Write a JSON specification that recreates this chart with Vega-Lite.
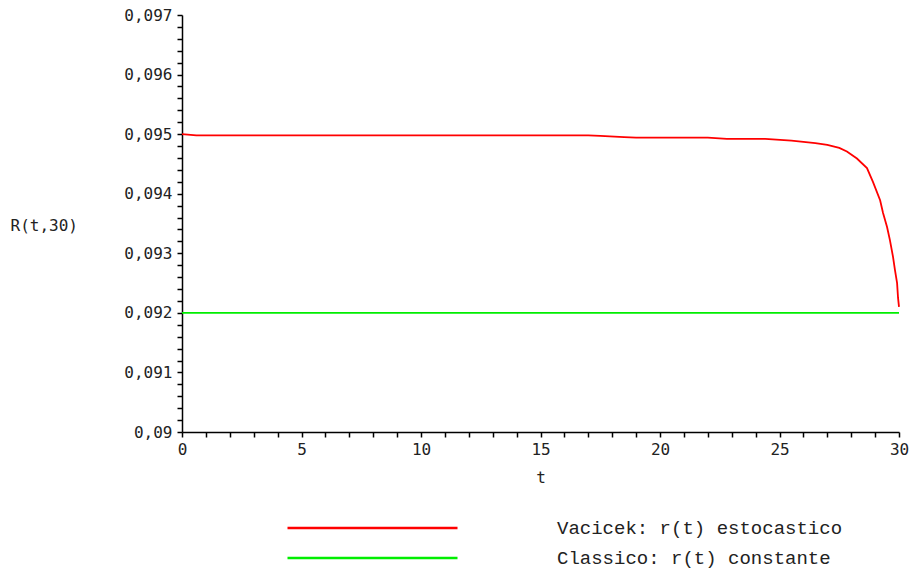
{
  "$schema": "https://vega.github.io/schema/vega-lite/v6.json",
  "autosize": {"type": "none"},
  "padding": {"left": 182, "top": 15, "right": 12, "bottom": 142},
  "width": 717,
  "height": 417,
  "background": "white",
  "config": {
    "view": {"stroke": null},
    "axis": {
      "grid": false,
      "labelFlush": false,
      "domainColor": "#000000",
      "domainWidth": 1.5,
      "tickColor": "#000000",
      "tickWidth": 1.5,
      "tickSize": 5,
      "labelFont": "DejaVu Sans Mono",
      "labelFontSize": 16,
      "labelColor": "#222222",
      "titleFont": "DejaVu Sans Mono",
      "titleFontSize": 16,
      "titleFontWeight": "normal",
      "titleColor": "#222222"
    }
  },
  "data": {
    "values": [
      {"t": 0, "r": 0.0950, "serie": "Vacicek: r(t) estocastico"},
      {"t": 0.6, "r": 0.09498, "serie": "Vacicek: r(t) estocastico"},
      {"t": 17.0, "r": 0.09498, "serie": "Vacicek: r(t) estocastico"},
      {"t": 17.5, "r": 0.09497, "serie": "Vacicek: r(t) estocastico"},
      {"t": 18.5, "r": 0.09495, "serie": "Vacicek: r(t) estocastico"},
      {"t": 19.0, "r": 0.09494, "serie": "Vacicek: r(t) estocastico"},
      {"t": 22.0, "r": 0.09494, "serie": "Vacicek: r(t) estocastico"},
      {"t": 22.8, "r": 0.09492, "serie": "Vacicek: r(t) estocastico"},
      {"t": 24.4, "r": 0.09492, "serie": "Vacicek: r(t) estocastico"},
      {"t": 25.5, "r": 0.09489, "serie": "Vacicek: r(t) estocastico"},
      {"t": 26.5, "r": 0.09485, "serie": "Vacicek: r(t) estocastico"},
      {"t": 27.0, "r": 0.09482, "serie": "Vacicek: r(t) estocastico"},
      {"t": 27.5, "r": 0.09477, "serie": "Vacicek: r(t) estocastico"},
      {"t": 27.82, "r": 0.09471, "serie": "Vacicek: r(t) estocastico"},
      {"t": 28.24, "r": 0.09459, "serie": "Vacicek: r(t) estocastico"},
      {"t": 28.66, "r": 0.09443, "serie": "Vacicek: r(t) estocastico"},
      {"t": 28.91, "r": 0.09420, "serie": "Vacicek: r(t) estocastico"},
      {"t": 29.21, "r": 0.09389, "serie": "Vacicek: r(t) estocastico"},
      {"t": 29.33, "r": 0.09368, "serie": "Vacicek: r(t) estocastico"},
      {"t": 29.5, "r": 0.09344, "serie": "Vacicek: r(t) estocastico"},
      {"t": 29.62, "r": 0.09322, "serie": "Vacicek: r(t) estocastico"},
      {"t": 29.75, "r": 0.09294, "serie": "Vacicek: r(t) estocastico"},
      {"t": 29.83, "r": 0.09272, "serie": "Vacicek: r(t) estocastico"},
      {"t": 29.92, "r": 0.09250, "serie": "Vacicek: r(t) estocastico"},
      {"t": 29.96, "r": 0.09225, "serie": "Vacicek: r(t) estocastico"},
      {"t": 30, "r": 0.09210, "serie": "Vacicek: r(t) estocastico"},
      {"t": 0, "r": 0.092, "serie": "Classico: r(t) constante"},
      {"t": 30, "r": 0.092, "serie": "Classico: r(t) constante"}
    ]
  },
  "mark": {"type": "line", "strokeWidth": 1.8},
  "encoding": {
    "x": {
      "field": "t",
      "type": "quantitative",
      "scale": {"domain": [0, 30], "nice": false, "zero": false},
      "axis": {
        "title": "t",
        "values": [0,1,2,3,4,5,6,7,8,9,10,11,12,13,14,15,16,17,18,19,20,21,22,23,24,25,26,27,28,29,30],
        "labelExpr": "datum.value % 5 == 0 ? datum.label : ''",
        "labelPadding": 4,
        "titleY": 45,
        "titleBaseline": "middle",
        "offset": 0
      }
    },
    "y": {
      "field": "r",
      "type": "quantitative",
      "scale": {"domain": [0.09, 0.097], "nice": false, "zero": false},
      "axis": {
        "title": "R(t,30)",
        "titleAngle": 0,
        "titleAlign": "left",
        "titleBaseline": "middle",
        "titleX": -172,
        "titleY": 210,
        "values": [0.09,0.0902,0.0904,0.0906,0.0908,0.091,0.0912,0.0914,0.0916,0.0918,0.092,0.0922,0.0924,0.0926,0.0928,0.093,0.0932,0.0934,0.0936,0.0938,0.094,0.0942,0.0944,0.0946,0.0948,0.095,0.0952,0.0954,0.0956,0.0958,0.096,0.0962,0.0964,0.0966,0.0968,0.097],
        "labelExpr": "abs(datum.value*1000-round(datum.value*1000))<0.01 ? replace(format(datum.value,'.3~f'),'.',',') : ''",
        "labelPadding": 5
      }
    },
    "color": {
      "field": "serie",
      "type": "nominal",
      "scale": {
        "domain": ["Vacicek: r(t) estocastico", "Classico: r(t) constante"],
        "range": ["#ff0000", "#00ee00"]
      },
      "legend": {
        "title": null,
        "orient": "none",
        "legendX": 104,
        "legendY": 503,
        "symbolType": "stroke",
        "symbolSize": 28900,
        "symbolStrokeWidth": 2.5,
        "clipHeight": 20,
        "labelFont": "Liberation Mono",
        "labelFontSize": 19,
        "labelColor": "#222222",
        "labelLimit": 0,
        "labelOffset": 98,
        "rowPadding": 10,
        "padding": 0,
        "offset": 0
      }
    }
  }
}
